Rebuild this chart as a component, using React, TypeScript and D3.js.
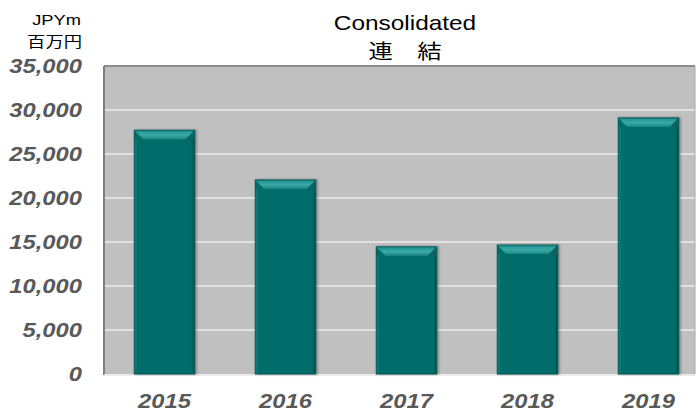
import React from "react";
import * as d3 from "d3";

const years = ["2015", "2016", "2017", "2018", "2019"];
const values = [27700, 22050, 14450, 14650, 29100];
const yTicks = [0, 5000, 10000, 15000, 20000, 25000, 30000, 35000];

const W = 697;
const H = 411;
const left = 104;
const right = 695;
const top = 66;
const bottom = 374;
const SX = 1.22;

function SText(props: { x: number; y: number; anchor: string; size: number; bold?: boolean; italic?: boolean; fill: string; family?: string; children: React.ReactNode }) {
  return (
    <text
      transform={`translate(${props.x},${props.y}) scale(${SX},1)`}
      textAnchor={props.anchor}
      fontSize={props.size}
      fontWeight={props.bold ? "bold" : "normal"}
      fontStyle={props.italic ? "italic" : "normal"}
      fill={props.fill}
      fontFamily={props.family}
      style={{ whiteSpace: "pre" }}
    >
      {props.children}
    </text>
  );
}

export default function App() {
  const y = d3.scaleLinear().domain([0, 35000]).range([bottom, top]);
  const x = d3.scaleBand().domain(years).range([left, 709]).paddingInner(0.5).paddingOuter(0.25);
  const fmt = d3.format(",");
  const bw = x.bandwidth();
  const bev = 9;
  return (
    <svg width={W} height={H} style={{ position: "absolute", left: 0, top: 0 }} fontFamily="Arial, Liberation Sans, sans-serif">
      <defs>
        <linearGradient id="topBev" x1="0" y1="0" x2="0" y2="1">
          <stop offset="0" stopColor="#1f8f8c" />
          <stop offset="0.5" stopColor="#3aaba7" />
          <stop offset="1" stopColor="#1b8582" />
        </linearGradient>
        <linearGradient id="leftBev" x1="0" y1="0" x2="1" y2="0">
          <stop offset="0" stopColor="#0c7d7a" />
          <stop offset="1" stopColor="#066e6b" />
        </linearGradient>
        <linearGradient id="rightBev" x1="0" y1="0" x2="1" y2="0">
          <stop offset="0" stopColor="#066a67" />
          <stop offset="1" stopColor="#04504e" />
        </linearGradient>
        <filter id="sh" x="-20%" y="-20%" width="140%" height="140%">
          <feDropShadow dx="1.5" dy="0" stdDeviation="1.2" floodColor="#000" floodOpacity="0.35" />
        </filter>
      </defs>
      <rect x={left} y={top} width={right - left} height={bottom - top} fill="#c0c0c0" />
      {yTicks.filter((t) => t > 0).map((t) => (
        <line key={t} x1={left} x2={right} y1={y(t)} y2={y(t)} stroke={t === 35000 ? "#8c8c8c" : "#e2e2e2"} strokeWidth={2} />
      ))}
      <line x1={right} x2={right} y1={top} y2={bottom} stroke="#a8a8a8" strokeWidth={1} />
      <line x1={left} x2={left} y1={top} y2={bottom + 1} stroke="#7f7f7f" strokeWidth={2} />
      <line x1={left} x2={right} y1={bottom + 1} y2={bottom + 1} stroke="#e6e6e6" strokeWidth={1.5} />
      {years.map((yr, i) => {
        const x0 = x(yr)!;
        const y0 = y(values[i]);
        const h = bottom - y0;
        return (
          <g key={yr} filter="url(#sh)">
            <rect x={x0} y={y0} width={bw} height={h} fill="#066d6a" stroke="#055452" strokeWidth={1} />
            <rect x={x0 + 0.5} y={y0 + bev} width={3} height={h - bev - 1} fill="url(#leftBev)" />
            <rect x={x0 + bw - 3.5} y={y0 + bev} width={3} height={h - bev - 1} fill="url(#rightBev)" />
            <polygon points={`${x0 + 0.5},${y0 + 0.5} ${x0 + bw - 0.5},${y0 + 0.5} ${x0 + bw - bev},${y0 + bev} ${x0 + bev},${y0 + bev}`} fill="url(#topBev)" />
            <polygon points={`${x0 + bw - 0.5},${y0 + 0.5} ${x0 + bw - bev},${y0 + bev} ${x0 + bw - 3.5},${y0 + bev + 2} ${x0 + bw - 0.5},${y0 + bev + 2}`} fill="#0a5f5d" opacity={0.7} />
          </g>
        );
      })}
      {yTicks.map((t) => (
        <SText key={t} x={82} y={y(t) + 7} anchor="end" size={19.5} bold italic fill="#595959">
          {fmt(t)}
        </SText>
      ))}
      {years.map((yr) => (
        <SText key={yr} x={x(yr)! + bw / 2} y={408} anchor="middle" size={19.5} bold italic fill="#595959">
          {yr}
        </SText>
      ))}
      <SText x={81} y={25} anchor="end" size={15} fill="#000">JPYm</SText>
      <SText x={82} y={47} anchor="end" size={15} fill="#000" family="Noto Sans CJK JP, sans-serif">百万円</SText>
      <SText x={405} y={30} anchor="middle" size={20} fill="#000">Consolidated</SText>
      <SText x={405} y={59} anchor="middle" size={20} fill="#000" family="Noto Sans CJK JP, sans-serif">連　結</SText>
    </svg>
  );
}
